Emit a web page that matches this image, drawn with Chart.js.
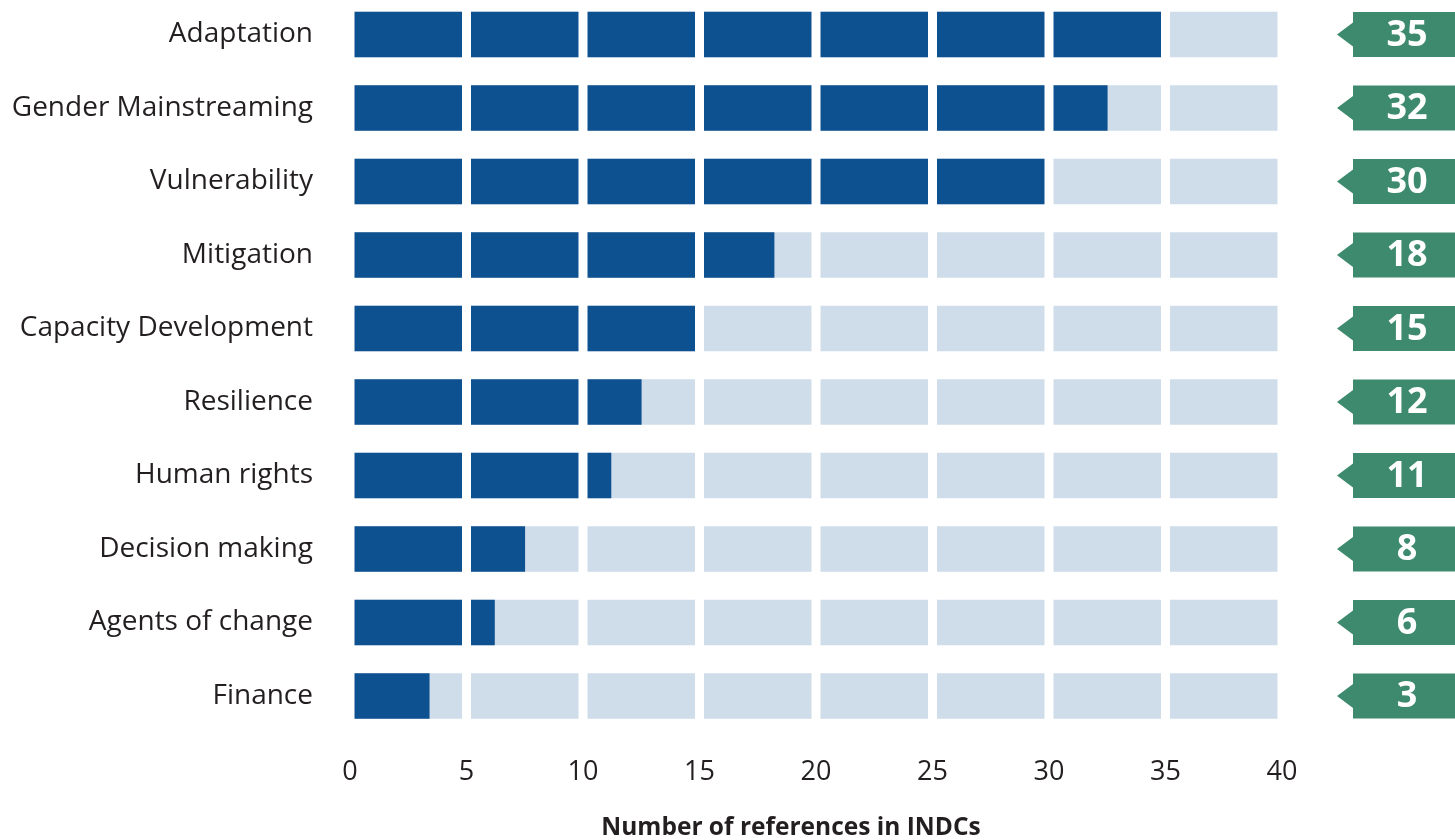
<!DOCTYPE html>
<html>
<head>
<meta charset="utf-8">
<script src="https://cdn.jsdelivr.net/npm/chart.js@4"></script>
<style>
  body { margin: 0; background: #fff; }
  #wrap { width: 1455px; height: 840px; position: relative; }
</style>
</head>
<body>
<div id="wrap"><canvas id="barChart"></canvas></div>
<script>
var categories = ['Adaptation', 'Gender Mainstreaming', 'Vulnerability', 'Mitigation',
    'Capacity Development', 'Resilience', 'Human rights', 'Decision making',
    'Agents of change', 'Finance'];
// bar lengths as drawn in the picture
var barLengths = [35, 32.5, 30, 18.2, 15, 12.5, 11.2, 7.5, 6.2, 3.4];
// numbers printed in the green tags
var counts = [35, 32, 30, 18, 15, 12, 11, 8, 6, 3];
var scaleMax = 40;
var fullBars = categories.map(function () { return scaleMax; });
var xTitle = 'Number of references in INDCs';

var DARK = '#0e5190';
var LIGHT = '#cfdce9';
var GREEN = '#3d8a6e';
var TEXT = '#231f20';
var BAR_H = 45;

// white gaps every 5 units, cut through the bars
var gapPlugin = {
    id: 'gaps',
    afterDatasetsDraw: function (chart) {
        var ctx = chart.ctx, x = chart.scales.x, y = chart.scales.y;
        var top = y.getPixelForValue(0) - BAR_H / 2 - 2;
        var bottom = y.getPixelForValue(categories.length - 1) + BAR_H / 2 + 2;
        ctx.save();
        ctx.fillStyle = '#fff';
        for (var v = 0; v <= scaleMax; v += 5) {
            var px = x.getPixelForValue(v);
            ctx.fillRect(px - 4.5, top, 9, bottom - top);
        }
        ctx.restore();
    }
};

// green arrow tags on the right + axis title
var tagPlugin = {
    id: 'tags',
    afterDraw: function (chart) {
        var ctx = chart.ctx, y = chart.scales.y, area = chart.chartArea;
        var bodyLeft = area.right + 71;
        var tip = area.right + 55;
        ctx.save();
        counts.forEach(function (c, i) {
            var cy = y.getPixelForValue(i);
            ctx.fillStyle = GREEN;
            ctx.beginPath();
            ctx.moveTo(bodyLeft, cy - BAR_H / 2);
            ctx.lineTo(chart.width, cy - BAR_H / 2);
            ctx.lineTo(chart.width, cy + BAR_H / 2);
            ctx.lineTo(bodyLeft, cy + BAR_H / 2);
            ctx.lineTo(bodyLeft, cy + 12);
            ctx.lineTo(tip, cy);
            ctx.lineTo(bodyLeft, cy - 12);
            ctx.closePath();
            ctx.fill();
            ctx.fillStyle = '#fff';
            ctx.font = 'bold 36px "Open Sans"';
            ctx.textAlign = 'center';
            ctx.textBaseline = 'middle';
            ctx.fillText(String(c), bodyLeft + 54, cy + 1);
        });
        ctx.fillStyle = TEXT;
        ctx.font = 'bold 24.5px "Open Sans"';
        ctx.textAlign = 'center';
        ctx.textBaseline = 'middle';
        ctx.fillText(xTitle, 791, 828);
        ctx.restore();
    }
};

var barChart = new Chart(document.getElementById('barChart').getContext('2d'), {
    type: 'bar',
    data: {
        labels: categories,
        datasets: [{
            data: barLengths,
            backgroundColor: DARK,
            order: 1,
            clip: false
        }, {
            data: fullBars,
            backgroundColor: LIGHT,
            order: 2,
            clip: false
        }]
    },
    options: {
        indexAxis: 'y',
        responsive: true,
        maintainAspectRatio: false,
        animation: false,
        layout: { padding: { top: 34.5, right: 173, left: 0, bottom: 0 } },
        datasets: { bar: { grouped: false, barThickness: BAR_H } },
        plugins: { legend: { display: false }, tooltip: { enabled: false } },
        scales: {
            x: {
                min: 0,
                max: scaleMax,
                grid: { display: false, drawTicks: false },
                border: { display: false },
                ticks: {
                    stepSize: 5,
                    padding: 60,
                    color: TEXT,
                    font: { family: 'Open Sans', size: 27 }
                },
                afterFit: function (scale) {
                    scale.height = 144;
                    scale.paddingLeft = 0;
                    scale.paddingRight = 0;
                }
            },
            y: {
                offset: false,
                grid: { display: false, drawTicks: false },
                border: { display: false },
                ticks: {
                    padding: 37,
                    color: TEXT,
                    font: { family: 'Open Sans', size: 28 }
                },
                afterFit: function (scale) {
                    scale.width = 350;
                    scale.paddingTop = 0;
                    scale.paddingBottom = 0;
                }
            }
        }
    },
    plugins: [gapPlugin, tagPlugin]
});
</script>
</body>
</html>
